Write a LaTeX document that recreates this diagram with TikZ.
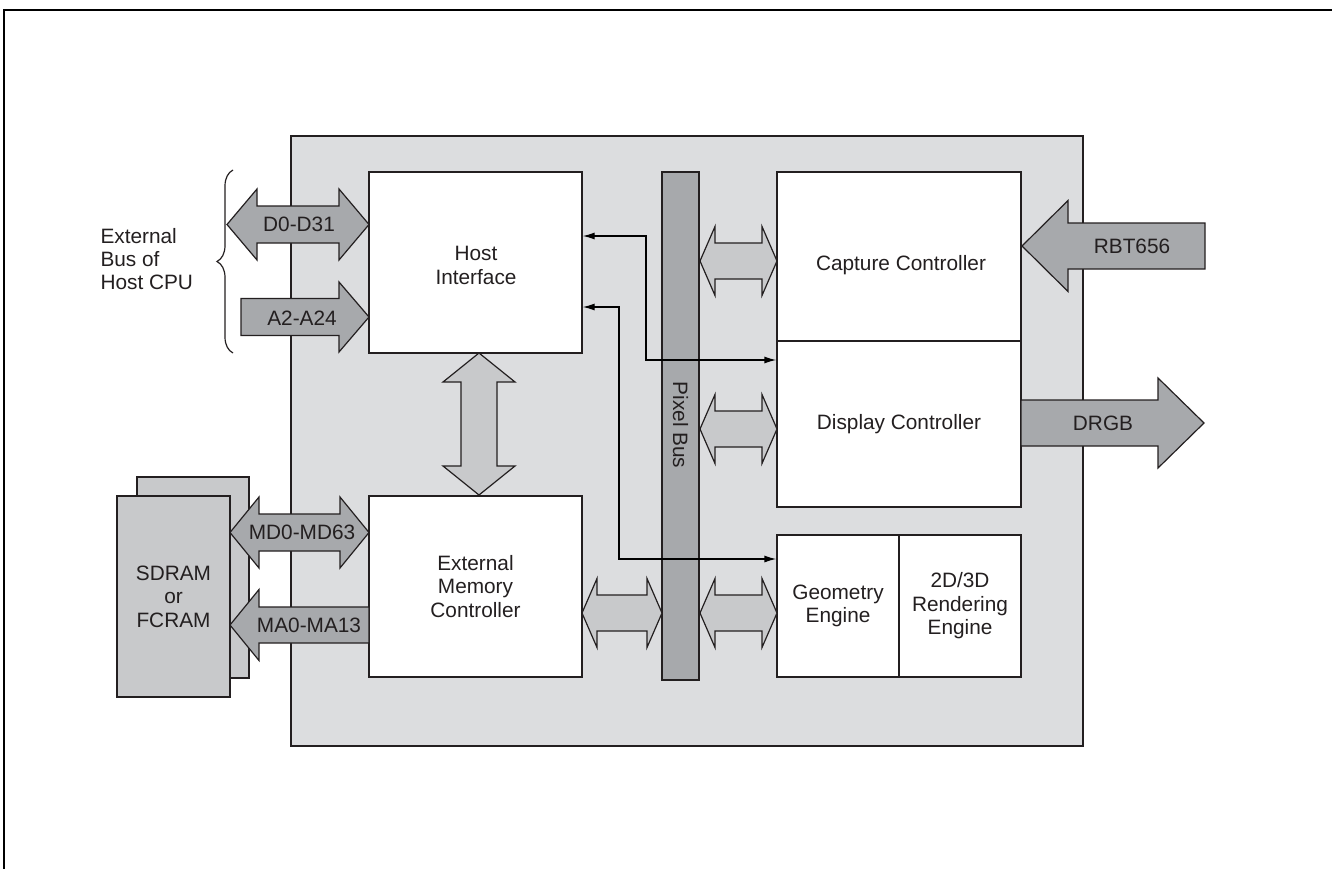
\documentclass[tikz,border=0pt]{standalone}
\usepackage{fontspec}
\setmainfont{Liberation Sans}
\usetikzlibrary{arrows.meta,decorations.pathreplacing}

\definecolor{chipgray}{HTML}{DCDDDF}
\definecolor{busdark}{HTML}{A7A9AC}
\definecolor{buslight}{HTML}{C8C9CB}
\definecolor{inkgray}{HTML}{231F20}

\newcommand{\blockfont}{\fontsize{20.8}{23.4}\selectfont}
% fat bus arrows: style, x1, x2, y, head length, head half width, shaft half width
\newcommand{\dbus}[7]{\draw[#1] (#2,#4) -- ++(#5,-#6) -- ++(0,#6-#7) -- ({#3-#5},{#4-#7}) -- ++(0,#7-#6) -- (#3,#4) -- ++(-#5,#6) -- ++(0,#7-#6) -- ({#2+#5},{#4+#7}) -- ++(0,#6-#7) -- cycle;}
\newcommand{\rbus}[7]{\draw[#1] (#2,{#4-#7}) -- ({#3-#5},{#4-#7}) -- ++(0,#7-#6) -- (#3,#4) -- ++(-#5,#6) -- ++(0,#7-#6) -- (#2,{#4+#7}) -- cycle;}
\newcommand{\lbus}[7]{\draw[#1] (#2,#4) -- ++(#5,-#6) -- ++(0,#6-#7) -- (#3,{#4-#7}) -- (#3,{#4+#7}) -- ({#2+#5},{#4+#7}) -- ++(0,#6-#7) -- cycle;}

\tikzset{
  block/.style={draw=inkgray, fill=white, line width=1.3pt, inner sep=0pt, font=\blockfont, text=inkgray, align=center},
  darkbus/.style={draw=inkgray, fill=busdark, line width=1.2pt},
  lightbus/.style={draw=inkgray, fill=buslight, line width=1.2pt},
  buslabel/.style={font=\blockfont, text=inkgray, align=center},
  sig/.style={draw=black, line width=1.3pt, {Latex[length=12pt,width=7pt]}-{Latex[length=12pt,width=7pt]}},
}

\begin{document}
\begin{tikzpicture}[x=1pt, y=-1pt]
  \useasboundingbox (0,0) rectangle (1332,869);
  \draw[line width=2.2pt] (3.8,869) -- (3.8,10) -- (1332,10);

  % chip
  \node[draw=inkgray, line width=1.6pt, fill=chipgray, minimum width=792pt, minimum height=610pt, inner sep=0pt] (chip) at (687,441) {};

  % memory chips
  \node[block, fill=buslight, minimum width=112pt, minimum height=201pt] (sdramback) at (193,577.5) {};
  \node[block, fill=buslight, minimum width=113pt, minimum height=201pt] (sdram) at (173.5,596.5) {SDRAM\\or\\FCRAM};

  % blocks
  \node[block, minimum width=213pt, minimum height=181pt] (host) at (475.5,262.5) {};
  \node[buslabel] (hosttext) at (476,265.5) {Host\\Interface};
  \node[block, minimum width=213pt, minimum height=181pt] (emc) at (475.5,586.5) {External\\Memory\\Controller};
  \node[block, minimum width=244pt, minimum height=169pt] (capture) at (899,256.5) {};
  \node[buslabel] (capturetext) at (901,265) {Capture Controller};
  \node[block, minimum width=244pt, minimum height=166pt] (display) at (899,424) {Display Controller};
  \node[block, minimum width=122pt, minimum height=142pt] (geometry) at (838,606) {Geometry\\Engine};
  \node[block, minimum width=122pt, minimum height=142pt] (render) at (960,606) {2D/3D\\Rendering\\Engine};

  % pixel bus
  \node[block, fill=busdark, minimum width=37pt, minimum height=508pt] (pixelbus) at (680.5,426) {};
  \node[buslabel, rotate=-90] (pixeltext) at (680.5,425) {Pixel Bus};

  % control lines
  \draw[sig] (host.east |- 0,236) -- (646,236) |- (display.west |- 0,360);
  \draw[sig] (host.east |- 0,307) -- (619,307) |- (geometry.west |- 0,559);

  % internal buses
  \dbus{lightbus}{700}{777}{261}{15}{34.5}{18}
  \dbus{lightbus}{700}{777}{429}{15}{34.5}{18}
  \dbus{lightbus}{700}{777}{613}{15}{34.5}{18}
  \dbus{lightbus}{582}{662}{613}{15}{34.5}{18}
  \draw[lightbus] (479,353) -- ++(36,29) -- ++(-18,0) -- ++(0,84) -- ++(18,0) -- ++(-36,29)
    -- ++(-36,-29) -- ++(18,0) -- ++(0,-84) -- ++(-18,0) -- cycle;

  % external buses
  \dbus{darkbus}{227}{369}{224.5}{30}{35.5}{18.5}
  \node[buslabel] (dbuslabel) at (299,224.5) {D0-D31};
  \rbus{darkbus}{241}{369}{317}{30}{35}{18.5}
  \node[buslabel] (abuslabel) at (302,318) {A2-A24};
  \dbus{darkbus}{230}{369}{532.5}{29}{35.5}{18.5}
  \node[buslabel] (mdbuslabel) at (302,532.5) {MD0-MD63};
  \lbus{darkbus}{230}{369}{625}{29}{35.5}{18}
  \node[buslabel] (mabuslabel) at (309,625) {MA0-MA13};
  \lbus{darkbus}{1022}{1205}{246}{46}{45.5}{23}
  \node[buslabel] (rbtlabel) at (1132,246) {RBT656};
  \rbus{darkbus}{1021}{1204}{423}{46}{45}{23}
  \node[buslabel] (drgblabel) at (1103,423) {DRGB};

  % host cpu bus
  \draw[draw=inkgray, line width=1.2pt, decorate, decoration={brace, amplitude=16pt}] (233,353) -- (233,170);
  \node[buslabel, align=left, anchor=west] (extbus) at (97,259) {External\\Bus of\\Host CPU};
\end{tikzpicture}
\end{document}
